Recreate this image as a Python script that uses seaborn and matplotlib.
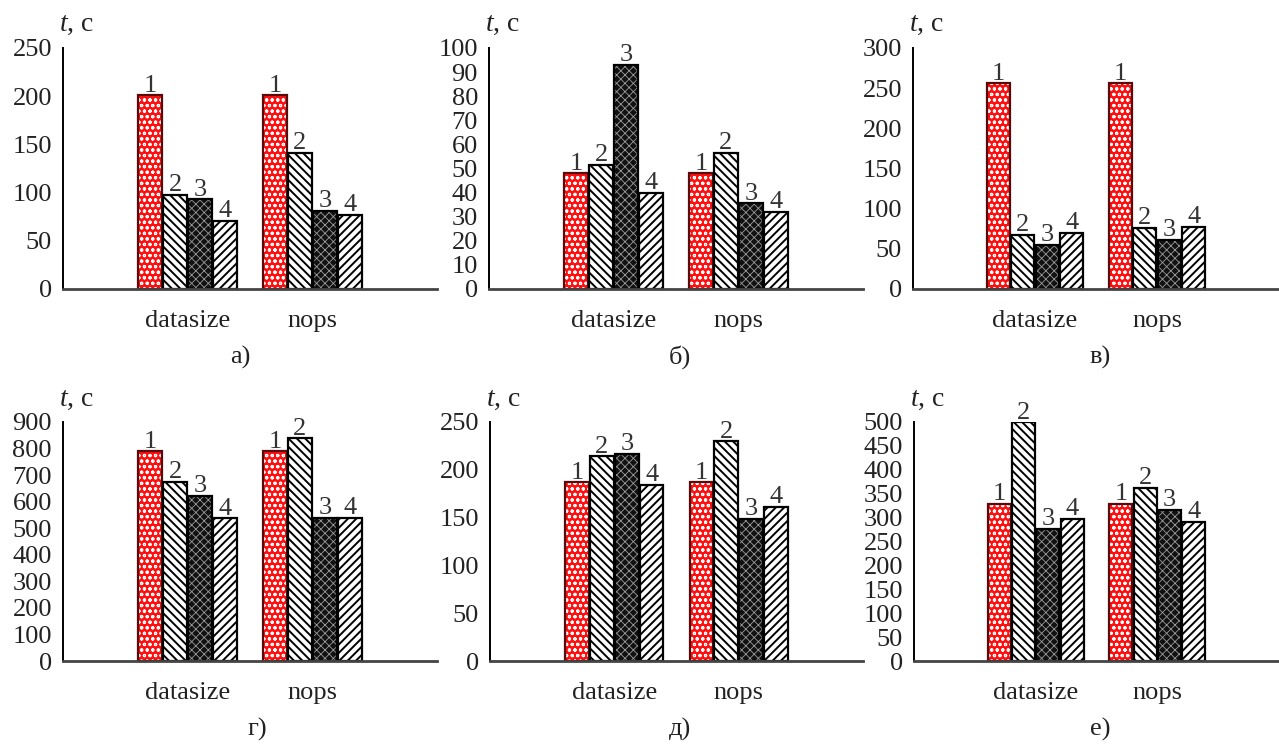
import numpy as np
import pandas as pd
import matplotlib
matplotlib.use("Agg")
import matplotlib.pyplot as plt
import seaborn as sns

# ---------------- data ----------------
categories = ["datasize", "nops"]
series = ["1", "2", "3", "4"]
panel_letters = ["а)", "б)", "в)", "г)", "д)", "е)"]

a_datasize = [201, 98, 93, 71]
a_nops = [201, 141, 81, 77]
b_datasize = [48, 51.5, 93, 40]
b_nops = [48, 56.5, 35.5, 32]
c_datasize = [256, 67.5, 55, 70]
c_nops = [256, 76, 61.5, 77.5]
d_datasize = [790, 675, 622, 537]
d_nops = [790, 838, 540, 540]
e_datasize = [187, 214, 217, 184]
e_nops = [187, 230, 149, 161]
f_datasize = [329, 499, 277, 297]
f_nops = [329, 362, 316, 291]

y_max = [250, 100, 300, 900, 250, 500]
y_step = [50, 10, 50, 100, 50, 50]

panels = [(a_datasize, a_nops), (b_datasize, b_nops), (c_datasize, c_nops),
          (d_datasize, d_nops), (e_datasize, e_nops), (f_datasize, f_nops)]

# ---------------- style ----------------
face_colors = ["#ff1010", "#ffffff", "#111111", "#ffffff"]
hatch_colors = ["#ffffff", "#000000", "#9a9a9a", "#000000"]
hatches = ["ooo", "\\\\\\\\", "xxxx", "////"]
hatch_lw = [0.8, 1.4, 0.6, 1.4]
border_colors = ["#5a0a0a", "#000000", "#000000", "#000000"]

sns.set_theme(style="white")
plt.rcParams.update({
    "font.family": ["Liberation Serif", "DejaVu Serif"],
    "mathtext.fontset": "custom",
    "mathtext.it": "Liberation Serif:italic",
    "mathtext.rm": "Liberation Serif",
    "hatch.linewidth": 1.3,
})

W, H = 1279, 747
fig = plt.figure(figsize=(W / 100, H / 100), dpi=100)
boxes = [(63, 48, 437, 289), (489, 48, 863, 289), (913, 48, 1279, 289),
         (63, 422, 437, 661), (490, 422, 863, 661), (914, 422, 1279, 661)]
letter_x = [0.475, 0.51, 0.51, 0.52, 0.51, 0.51]
text_col = "#222222"
fs = 19

for k, (ds, nops) in enumerate(panels):
    l, t, r, b = boxes[k]
    ax = fig.add_axes([l / W, 1 - b / H, (r - l) / W, (b - t) / H])
    df = pd.DataFrame({
        "category": np.repeat(categories, len(series)),
        "series": series * len(categories),
        "t": np.concatenate([ds, nops]),
    })
    # hatched fills
    sns.barplot(data=df, x="category", y="t", hue="series", order=categories,
                hue_order=series, palette=face_colors, saturation=1,
                linewidth=0, gap=0.05, width=0.8, errorbar=None,
                legend=False, ax=ax)
    for i, cont in enumerate(ax.containers):
        for p in cont:
            p.set_hatch(hatches[i])
            p.set_edgecolor(hatch_colors[i])
            p.set_linewidth(0)
            if hasattr(p, "set_hatch_linewidth"):
                p.set_hatch_linewidth(hatch_lw[i])
    n0 = len(ax.containers)
    # borders
    sns.barplot(data=df, x="category", y="t", hue="series", order=categories,
                hue_order=series, palette=border_colors, saturation=1,
                fill=False, linewidth=1.6, gap=0.05, width=0.8,
                errorbar=None, legend=False, ax=ax)
    for i, cont in enumerate(ax.containers[n0:]):
        for p in cont:
            p.set_edgecolor(border_colors[i])
            p.set_facecolor("none")
        ax.bar_label(cont, labels=[series[i]] * len(cont), padding=-1,
                     fontsize=fs, color="#333333")

    ax.set_xlim(-1, 2)
    ax.set_ylim(0, y_max[k])
    ax.set_yticks(np.arange(0, y_max[k] + 1, y_step[k]))
    ax.set_xlabel("")
    ax.set_ylabel("")
    for s in ("top", "right"):
        ax.spines[s].set_visible(False)
    ax.spines["left"].set_color("#000000")
    ax.spines["left"].set_linewidth(1.4)
    ax.spines["bottom"].set_color("#444444")
    ax.spines["bottom"].set_linewidth(2)
    ax.tick_params(axis="x", length=0, pad=15, labelsize=fs, colors=text_col)
    ax.tick_params(axis="y", direction="in", length=3, width=1, pad=8,
                   labelsize=fs, colors=text_col)
    ax.annotate(r"$t$, с", xy=(0, 1), xycoords="axes fraction",
                xytext=(-4, 23), textcoords="offset pixels",
                ha="left", va="center", fontsize=20, color=text_col)
    ax.annotate(panel_letters[k], xy=(letter_x[k], 0), xycoords="axes fraction",
                xytext=(0, -68), textcoords="offset pixels",
                ha="center", va="center", fontsize=fs, color=text_col)

fig.savefig("out.png", dpi=100)
